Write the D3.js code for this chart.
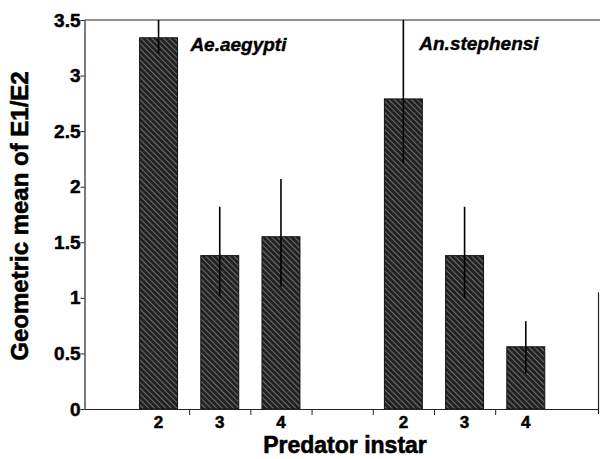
<!DOCTYPE html>
<html><head><meta charset="utf-8">
<script src="https://cdn.jsdelivr.net/npm/d3@7"></script>
<style>
html,body{margin:0;padding:0;background:#fff;}
svg{display:block;}
svg text{font-family:"Liberation Sans",Arial,Helvetica,sans-serif;font-weight:700;fill:#000;stroke:#000;}
</style>
</head><body>
<svg id="chart" width="600" height="459"></svg>
<script>
// ---- data ----
const species = ["Ae.aegypti", "An.stephensi"];
const instars = ["2", "3", "4"];
const aeMeans = [3.34, 1.38, 1.55];
const aeUpper = [3.60, 1.82, 2.07];
const aeLower = [3.20, 1.01, 1.10];
const anMeans = [2.79, 1.38, 0.56];
const anUpper = [3.60, 1.82, 0.79];
const anLower = [2.21, 1.00, 0.32];
const yTickValues = [0, 0.5, 1, 1.5, 2, 2.5, 3, 3.5];
const yTickLabels = ["0", "0.5", "1", "1.5", "2", "2.5", "3", "3.5"];
const yTitle = "Geometric mean of E1/E2";
const xTitle = "Predator instar";

const means = [aeMeans, anMeans], uppers = [aeUpper, anUpper], lowers = [aeLower, anLower];
const rows = [];
species.forEach((s, gi) => instars.forEach((ins, ii) => rows.push({
  species: s, instar: ins, slot: gi * 4 + ii + 1,
  mean: means[gi][ii], hi: uppers[gi][ii], lo: lowers[gi][ii]
})));

// ---- layout ----
const L = 84.5, R = 598, T = 20, B = 409;
const svg = d3.select("#chart");
const x = d3.scaleLinear().domain([-0.21, 8.18]).range([L, R]);
const y = d3.scaleLinear().domain([0, 3.5]).range([B, T]);
const step = x(2) - x(1);
const bw = step * 0.62;

const defs = svg.append("defs");
const pat = defs.append("pattern").attr("id", "hatch").attr("patternUnits", "userSpaceOnUse")
  .attr("width", 4).attr("height", 4).attr("patternTransform", "rotate(-45)");
pat.append("rect").attr("width", 4).attr("height", 4).attr("fill", "#222");
pat.append("line").attr("x1", 0).attr("y1", 0).attr("x2", 0).attr("y2", 4)
  .attr("stroke", "#b0b0b0").attr("stroke-width", 1.1);
defs.append("clipPath").attr("id", "plotclip").append("rect")
  .attr("x", L).attr("y", T).attr("width", R - L).attr("height", B - T);

// frame: top line and right edge
svg.append("line").attr("x1", L).attr("x2", 600).attr("y1", T).attr("y2", T)
  .attr("stroke", "#222").attr("stroke-width", 1.2);
svg.append("line").attr("x1", R + 0.5).attr("x2", R + 0.5).attr("y1", y(1.05)).attr("y2", B + 5)
  .attr("stroke", "#222").attr("stroke-width", 1.2);

// bars
svg.append("g").selectAll("rect").data(rows).join("rect")
  .attr("x", d => x(d.slot) - bw / 2).attr("width", bw)
  .attr("y", d => y(d.mean)).attr("height", d => y(0) - y(d.mean))
  .attr("fill", "url(#hatch)").attr("stroke", "#111").attr("stroke-width", 1);

// error bars
svg.append("g").attr("clip-path", "url(#plotclip)").selectAll("line").data(rows).join("line")
  .attr("x1", d => x(d.slot)).attr("x2", d => x(d.slot))
  .attr("y1", d => y(d.hi)).attr("y2", d => y(d.lo))
  .attr("stroke", "#000").attr("stroke-width", 1.6);

// y axis
const yAxis = d3.axisLeft(y).tickValues(yTickValues)
  .tickFormat((d, i) => yTickLabels[i]).tickSize(4).tickSizeOuter(0);
const gy = svg.append("g").attr("transform", `translate(${L},0)`).call(yAxis);
gy.select(".domain").attr("stroke", "#222").attr("stroke-width", 1.2);
gy.selectAll(".tick line").attr("stroke", "#222");
gy.selectAll(".tick text").attr("font-size", 19).attr("x", -4)
  .attr("stroke-width", 0.5);

// x axis
const tickSlots = [1.5, 2.5, 3.5, 4.5, 5.5, 6.5];
const xAxis = d3.axisBottom(x).tickValues(tickSlots).tickFormat("").tickSize(6).tickSizeOuter(0);
const gx = svg.append("g").attr("transform", `translate(0,${B})`).call(xAxis);
gx.select(".domain").attr("stroke", "#222").attr("stroke-width", 1.2);
gx.selectAll(".tick line").attr("stroke", "#222");

svg.append("g").selectAll("text").data(rows).join("text")
  .attr("x", d => x(d.slot)).attr("y", 428)
  .attr("text-anchor", "middle").attr("font-size", 17).attr("stroke-width", 0.5)
  .text(d => d.instar);

// species labels
const labelSlots = [1.52, 5.26];
svg.append("g").selectAll("text").data(species).join("text")
  .attr("x", (d, i) => x(labelSlots[i])).attr("y", (d, i) => i === 0 ? 51 : 50)
  .attr("font-size", 19).attr("font-style", "italic").attr("stroke-width", 0.4)
  .text(d => d);

// titles
svg.append("text").attr("transform", "translate(28,216) rotate(-90)")
  .attr("text-anchor", "middle").attr("font-size", 24).attr("stroke-width", 0.6).text(yTitle);
svg.append("text").attr("x", 345).attr("y", 453)
  .attr("text-anchor", "middle").attr("font-size", 23).attr("stroke-width", 0.6).text(xTitle);
</script>
</body></html>
